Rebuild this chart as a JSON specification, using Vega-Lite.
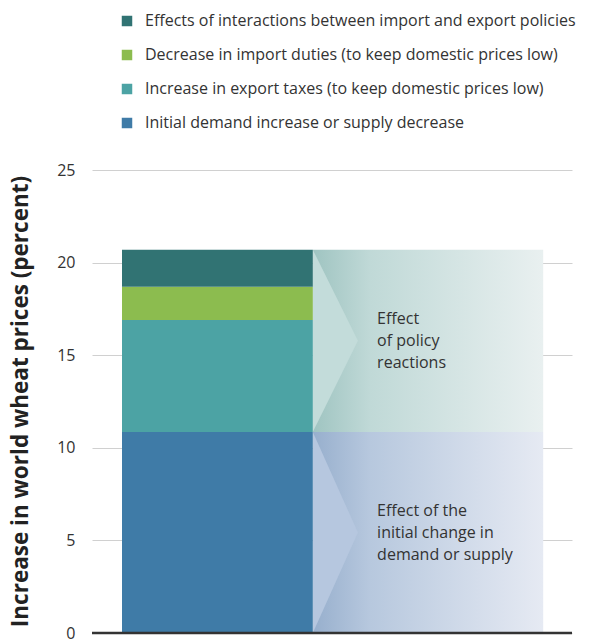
{
  "$schema": "https://vega.github.io/schema/vega-lite/v6.json",
  "autosize": {"type": "none"},
  "padding": {"left": 92, "top": 170, "right": 21, "bottom": 6},
  "width": 480,
  "height": 463,
  "background": "white",
  "config": {
    "font": "Open Sans",
    "view": {"stroke": null},
    "axis": {"labelFont": "Open Sans", "titleFont": "Open Sans"}
  },
  "datasets": {
    "segments": [
      {"category": "Initial demand increase or supply decrease", "start": 0, "end": 10.85},
      {"category": "Increase in export taxes (to keep domestic prices low)", "start": 10.85, "end": 16.9},
      {"category": "Decrease in import duties (to keep domestic prices low)", "start": 16.9, "end": 18.7},
      {"category": "Effects of interactions between import and export policies", "start": 18.7, "end": 20.7}
    ],
    "panels": [
      {"panel": "policy", "lo": 10.85, "hi": 20.7, "mid": 15.78, "label": ["Effect", "of policy", "reactions"]},
      {"panel": "initial", "lo": 0, "hi": 10.85, "mid": 5.42, "label": ["Effect of the", "initial change in", "demand or supply"]}
    ],
    "chevrons": [
      {"panel": "policy", "x": 46, "top": 20.7, "bottom": 10.85},
      {"panel": "policy", "x": 55.4, "top": 15.78, "bottom": 15.78},
      {"panel": "initial", "x": 46, "top": 10.85, "bottom": 0},
      {"panel": "initial", "x": 55.4, "top": 5.42, "bottom": 5.42}
    ]
  },
  "layer": [
    {
      "data": {"name": "panels"},
      "transform": [{"filter": "datum.panel === 'policy'"}],
      "mark": {
        "type": "rect",
        "fill": {
          "gradient": "linear", "x1": 0, "y1": 0, "x2": 1, "y2": 0,
          "stops": [
            {"offset": 0, "color": "#9fc4c1"},
            {"offset": 0.25, "color": "#c0d9d7"},
            {"offset": 1, "color": "#e9f0f0"}
          ]
        }
      },
      "encoding": {
        "x": {"datum": 46, "type": "quantitative", "scale": {"domain": [0, 100], "nice": false, "zero": false}, "axis": null},
        "x2": {"datum": 94},
        "y": {
          "field": "lo", "type": "quantitative",
          "scale": {"domain": [0, 25], "nice": false},
          "axis": {
            "values": [0, 5, 10, 15, 20, 25],
            "title": "Increase in world wheat prices (percent)",
            "titleFontSize": 22.5,
            "titleFontWeight": "bold",
            "titleColor": "#222222",
            "titleX": -60,
            "titleY": 231,
            "titleAnchor": null,
            "labelFontSize": 16,
            "labelColor": "#333333",
            "labelPadding": 17,
            "ticks": false,
            "domain": false,
            "grid": true,
            "gridColor": "#d0d0d0",
            "gridWidth": 1
          }
        },
        "y2": {"field": "hi"}
      }
    },
    {
      "data": {"name": "panels"},
      "transform": [{"filter": "datum.panel === 'initial'"}],
      "mark": {
        "type": "rect",
        "fill": {
          "gradient": "linear", "x1": 0, "y1": 0, "x2": 1, "y2": 0,
          "stops": [
            {"offset": 0, "color": "#97afcd"},
            {"offset": 0.25, "color": "#b7c8de"},
            {"offset": 1, "color": "#e6eaf3"}
          ]
        }
      },
      "encoding": {
        "x": {"datum": 46, "type": "quantitative"},
        "x2": {"datum": 94},
        "y": {"field": "lo", "type": "quantitative"},
        "y2": {"field": "hi"}
      }
    },
    {
      "data": {"name": "chevrons"},
      "mark": {"type": "area", "orient": "vertical"},
      "encoding": {
        "detail": {"field": "panel"},
        "x": {"field": "x", "type": "quantitative"},
        "y": {"field": "top", "type": "quantitative"},
        "y2": {"field": "bottom"},
        "color": {
          "field": "panel", "type": "nominal",
          "scale": {"domain": ["policy", "initial"], "range": ["#c3dcda", "#b6c7df"]},
          "legend": null
        }
      }
    },
    {
      "data": {"name": "segments"},
      "mark": {"type": "rect"},
      "encoding": {
        "x": {"datum": 6.25, "type": "quantitative"},
        "x2": {"datum": 46},
        "y": {"field": "start", "type": "quantitative"},
        "y2": {"field": "end"},
        "fill": {
          "field": "category", "type": "nominal",
          "scale": {
            "domain": [
              "Effects of interactions between import and export policies",
              "Decrease in import duties (to keep domestic prices low)",
              "Increase in export taxes (to keep domestic prices low)",
              "Initial demand increase or supply decrease"
            ],
            "range": ["#317373", "#8cbc4f", "#4ca3a4", "#3f7ba7"]
          },
          "legend": {
            "title": null,
            "orient": "none",
            "legendX": 27,
            "legendY": -157,
            "padding": 0,
            "symbolType": "square",
            "symbolSize": 110,
            "symbolStrokeWidth": 0,
            "labelFontSize": 16,
            "labelColor": "#333333",
            "labelOffset": 10,
            "labelLimit": 600,
            "rowPadding": 18
          }
        }
      }
    },
    {
      "data": {"name": "panels"},
      "mark": {"type": "text", "align": "left", "baseline": "middle", "fontSize": 16, "lineHeight": 22, "dy": -22, "color": "#333333", "font": "Open Sans"},
      "encoding": {
        "x": {"datum": 59.4, "type": "quantitative"},
        "y": {"field": "mid", "type": "quantitative"},
        "text": {"field": "label"}
      }
    },
    {
      "data": {"values": [{"base": 0}]},
      "mark": {"type": "rule", "color": "#333333", "strokeWidth": 2.5},
      "encoding": {
        "x": {"datum": 0, "type": "quantitative"},
        "x2": {"datum": 100},
        "y": {"field": "base", "type": "quantitative"}
      }
    }
  ],
  "resolve": {"scale": {"color": "independent"}}
}
